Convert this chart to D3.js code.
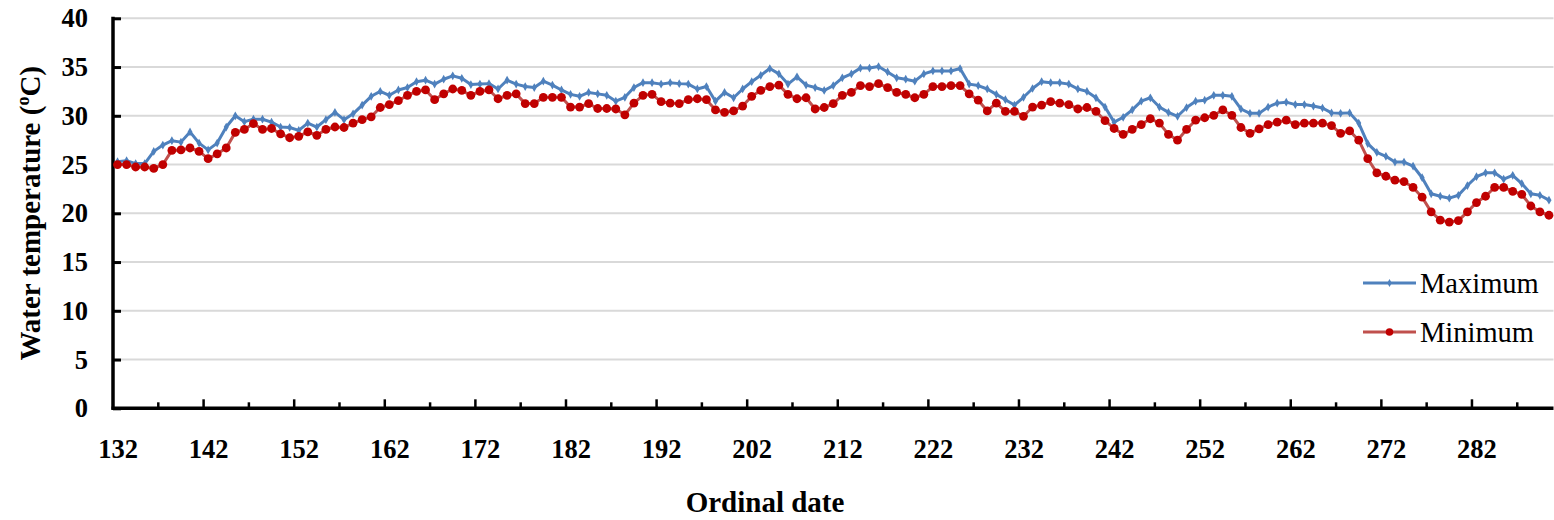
<!DOCTYPE html>
<html>
<head>
<meta charset="utf-8">
<script src="https://cdn.jsdelivr.net/npm/d3@7"></script>
<style>
  html, body { margin: 0; padding: 0; background: #fff; }
  svg { display: block; }
  svg text { font-family: "Liberation Serif", "Times New Roman", Times, serif; }
</style>
</head>
<body>
<svg id="chart" width="1554" height="520"></svg>
<script>
// Daily water temperature, ordinal days 132 to 290
const firstDay = 132;
const lastDay = 290;

const maxTemp = [
  25.3, 25.4, 25.1, 25.1,
  26.35, 27.0, 27.45, 27.3, 28.35,
  27.2, 26.5, 27.2, 28.85, 30.0,
  29.4, 29.65, 29.65, 29.35, 28.85,
  28.8, 28.5, 29.25, 28.85, 29.6,
  30.35, 29.6, 30.2, 31.1, 32.0,
  32.5, 32.1, 32.65, 32.9, 33.5,
  33.65, 33.25, 33.75, 34.1, 33.85,
  33.2, 33.25, 33.3, 32.75, 33.65,
  33.25, 33.0, 32.9, 33.55, 33.15,
  32.65, 32.2, 32.0, 32.4, 32.25,
  32.1, 31.5, 31.9, 32.9, 33.4,
  33.4, 33.25, 33.4, 33.3, 33.25,
  32.75, 33.0, 31.5, 32.4, 31.85,
  32.75, 33.5, 34.15, 34.85, 34.3,
  33.25, 34.0, 33.15, 32.9, 32.6,
  33.1, 33.9, 34.3, 34.9, 34.9,
  35.05, 34.5, 33.9, 33.75, 33.55,
  34.3, 34.6, 34.6, 34.6, 34.85,
  33.25, 33.1, 32.75, 32.2, 31.65,
  31.1, 31.9, 32.8, 33.5, 33.4,
  33.4, 33.25, 32.75, 32.5, 31.85,
  30.9, 29.35, 29.85, 30.6, 31.5,
  31.85, 30.9, 30.35, 29.95, 30.85,
  31.5, 31.6, 32.1, 32.1, 32.0,
  30.7, 30.25, 30.25, 30.9, 31.3,
  31.4, 31.15, 31.15, 31.0, 30.8,
  30.3, 30.25, 30.3, 29.25, 27.15,
  26.25, 25.85, 25.25, 25.25, 24.85,
  23.65, 22.0, 21.75, 21.55, 21.85,
  22.85, 23.75, 24.15, 24.15, 23.5,
  23.9, 23.05, 22.0, 21.85, 21.35
];

const minTemp = [
  25.0, 25.0, 24.75, 24.75,
  24.6, 25.0, 26.45, 26.5, 26.7,
  26.35, 25.6, 26.1, 26.7, 28.3,
  28.6, 29.2, 28.6, 28.7, 28.15,
  27.75, 27.9, 28.35, 28.0, 28.6,
  28.85, 28.8, 29.25, 29.6, 29.9,
  30.85, 31.15, 31.55, 32.1, 32.5,
  32.65, 31.65, 32.25, 32.75, 32.6,
  32.1, 32.5, 32.65, 31.75, 32.1,
  32.25, 31.25, 31.25, 31.9, 31.9,
  31.9, 30.9, 30.9, 31.25, 30.75,
  30.75, 30.7, 30.1, 31.3, 32.1,
  32.2, 31.45, 31.3, 31.25, 31.65,
  31.75, 31.65, 30.6, 30.35, 30.5,
  31.0, 32.0, 32.6, 33.0, 33.15,
  32.2, 31.75, 31.85, 30.7, 30.85,
  31.25, 32.1, 32.4, 33.1, 33.0,
  33.3, 32.9, 32.4, 32.2, 31.85,
  32.2, 33.0, 33.0, 33.1, 33.1,
  32.25, 31.6, 30.5, 31.3, 30.45,
  30.45, 29.95, 30.9, 31.1, 31.45,
  31.3, 31.15, 30.7, 30.85, 30.45,
  29.5, 28.7, 28.1, 28.6, 29.1,
  29.7, 29.25, 28.1, 27.5, 28.6,
  29.55, 29.8, 30.05, 30.6, 30.05,
  28.8, 28.2, 28.65, 29.1, 29.35,
  29.55, 29.1, 29.25, 29.25, 29.25,
  29.0, 28.2, 28.45, 27.5, 25.6,
  24.15, 23.8, 23.4, 23.25, 22.65,
  21.65, 20.15, 19.3, 19.1, 19.25,
  20.15, 21.1, 21.75, 22.65, 22.65,
  22.25, 21.95, 20.75, 20.15, 19.8
];

const yTicks = [0, 5, 10, 15, 20, 25, 30, 35, 40];
const xLabelDays = [132, 142, 152, 162, 172, 182, 192, 202, 212, 222, 232, 242, 252, 262, 272, 282];

const seriesNames = ["Maximum", "Minimum"];
const blue = "#4F81BD";
const lineRed = "#C0504D";
const dotRed = "#C00000";
const serif = "'Liberation Serif', 'Times New Roman', Times, serif";

const svg = d3.select("#chart");
const plot = { left: 113, right: 1553.5, top: 18.3, bottom: 408.3 };

// Categories sit in the middle of one-day bands, like a category axis
const x = d3.scaleLinear()
  .domain([firstDay - 0.5, lastDay + 0.5])
  .range([plot.left, plot.right]);
const y = d3.scaleLinear()
  .domain([0, 40])
  .range([plot.bottom, plot.top]);

const days = d3.range(firstDay, lastDay + 1);
const maxData = days.map((d, i) => ({ day: d, v: maxTemp[i] }));
const minData = days.map((d, i) => ({ day: d, v: minTemp[i] }));

// Horizontal gridlines
svg.append("g")
  .selectAll("line")
  .data(yTicks.filter(t => t > 0))
  .join("line")
  .attr("x1", plot.left).attr("x2", plot.right)
  .attr("y1", d => y(d)).attr("y2", d => y(d))
  .attr("stroke", "#D9D9D9").attr("stroke-width", 2);

// Y axis: ticks point inward
const yAxis = d3.axisLeft(y).tickValues(yTicks).tickSize(-8).tickPadding(25).tickFormat(d3.format("d"));
const gy = svg.append("g").attr("transform", `translate(${plot.left},0)`).call(yAxis);
gy.select(".domain").remove();
gy.selectAll(".tick line").attr("stroke", "#000").attr("stroke-width", 3);
gy.selectAll(".tick text")
  .style("font-family", serif).style("font-size", "26.5px").style("font-weight", "bold")
  .attr("fill", "#000");

// X axis tick marks at band boundaries: long every 10 days, short every 5
const boundaries = d3.range(firstDay - 0.5 + 5, lastDay + 0.5, 5);
svg.append("g")
  .selectAll("line")
  .data(boundaries)
  .join("line")
  .attr("x1", d => x(d)).attr("x2", d => x(d))
  .attr("y1", plot.bottom)
  .attr("y2", (d, i) => plot.bottom - (i % 2 === 1 ? 9 : 6))
  .attr("stroke", "#000").attr("stroke-width", 2.5);

// X tick labels
const xAxis = d3.axisBottom(x).tickValues(xLabelDays).tickSize(0).tickPadding(31).tickFormat(d3.format("d"));
const gx = svg.append("g").attr("transform", `translate(0,${plot.bottom})`).call(xAxis);
gx.select(".domain").remove();
gx.selectAll(".tick text")
  .style("font-family", serif).style("font-size", "26.5px").style("font-weight", "bold")
  .attr("fill", "#000");

// Axis lines
svg.append("line")
  .attr("x1", plot.left).attr("x2", plot.left)
  .attr("y1", plot.top - 1.5).attr("y2", plot.bottom + 1.5)
  .attr("stroke", "#000").attr("stroke-width", 3.5);
svg.append("line")
  .attr("x1", plot.left - 1.5).attr("x2", plot.right)
  .attr("y1", plot.bottom).attr("y2", plot.bottom)
  .attr("stroke", "#000").attr("stroke-width", 3.5);

const line = d3.line().x(d => x(d.day)).y(d => y(d.v));

// Maximum series
svg.append("path").datum(maxData)
  .attr("d", line).attr("fill", "none")
  .attr("stroke", blue).attr("stroke-width", 3).attr("stroke-linejoin", "round");
const diamond = d3.symbol().type(d3.symbolDiamond).size(22);
svg.append("g").selectAll("path")
  .data(maxData).join("path")
  .attr("d", diamond)
  .attr("transform", d => `translate(${x(d.day)},${y(d.v)})`)
  .attr("fill", blue);

// Minimum series
svg.append("path").datum(minData)
  .attr("d", line).attr("fill", "none")
  .attr("stroke", lineRed).attr("stroke-width", 3).attr("stroke-linejoin", "round");
svg.append("g").selectAll("circle")
  .data(minData).join("circle")
  .attr("cx", d => x(d.day)).attr("cy", d => y(d.v))
  .attr("r", 4.4).attr("fill", dotRed);

// Legend
const legend = svg.append("g");
const legendRows = [
  { name: seriesNames[0], stroke: blue, y: 283 },
  { name: seriesNames[1], stroke: lineRed, y: 332 }
];
legendRows.forEach((r, i) => {
  legend.append("line")
    .attr("x1", 1363).attr("x2", 1416).attr("y1", r.y).attr("y2", r.y)
    .attr("stroke", r.stroke).attr("stroke-width", 3);
  if (i === 0) {
    legend.append("path").attr("d", d3.symbol().type(d3.symbolDiamond).size(18))
      .attr("transform", `translate(1389.5,${r.y})`).attr("fill", blue);
  } else {
    legend.append("circle").attr("cx", 1389.5).attr("cy", r.y).attr("r", 3.8).attr("fill", dotRed);
  }
  legend.append("text")
    .attr("x", 1420).attr("y", r.y + 10)
    .style("font-family", serif).style("font-size", "28.5px")
    .attr("fill", "#000")
    .text(r.name);
});

// Axis titles
const yTitle = svg.append("text")
  .attr("transform", `translate(40,${(plot.top + plot.bottom) / 2}) rotate(-90)`)
  .attr("text-anchor", "middle")
  .style("font-family", serif).style("font-size", "29px").style("font-weight", "bold")
  .attr("fill", "#000");
yTitle.append("tspan").text("Water temperature (");
yTitle.append("tspan").style("font-size", "18px").attr("dy", -11).text("o");
yTitle.append("tspan").attr("dy", 11).text("C)");

svg.append("text")
  .attr("x", 765).attr("y", 512)
  .attr("text-anchor", "middle")
  .style("font-family", serif).style("font-size", "29px").style("font-weight", "bold")
  .attr("fill", "#000")
  .text("Ordinal date");
</script>
</body>
</html>
